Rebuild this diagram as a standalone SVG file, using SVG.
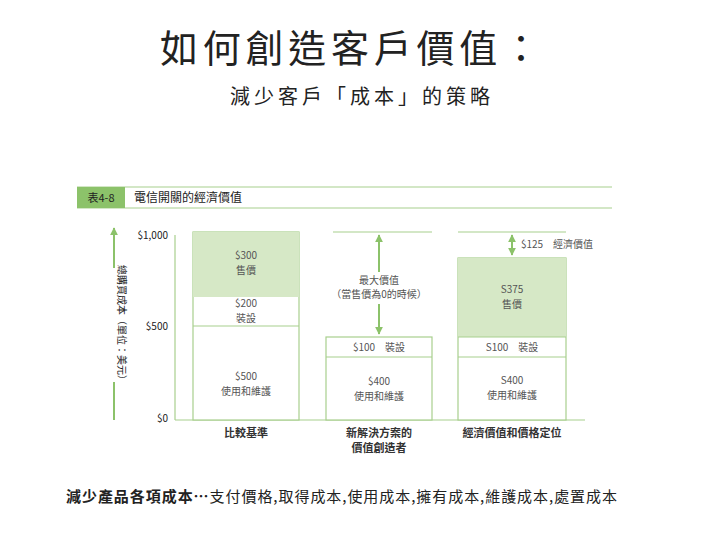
<svg xmlns="http://www.w3.org/2000/svg" width="720" height="540" viewBox="0 0 720 540">
<style>
text{font-family:"Noto Sans CJK TC","Noto Sans CJK SC",sans-serif;fill:#222}
.s{font-size:10px;fill:#555;text-anchor:middle}
.b{font-size:11px;fill:#333;text-anchor:middle;font-weight:bold}
.g{fill:#d6e8c6}
.bx{fill:#fff;stroke:#a8cf8e;stroke-width:1.2}
.ln{stroke:#a8cf8e;stroke-width:1.2;fill:none}
.ar{stroke:#8cc26a;stroke-width:2;fill:none}
</style>
<defs>
<marker id="ah" viewBox="0 0 10 10" refX="9" refY="5" markerWidth="4" markerHeight="4" orient="auto-start-reverse"><path d="M0,0L10,5L0,10z" fill="#8cc26a"/></marker>
</defs>
<rect width="720" height="540" fill="#fff"/>
<g id="title">
<text x="160" y="62" font-size="38" fill="#000" textLength="380" lengthAdjust="spacing">如何創造客戶價值：</text>
<text x="230" y="104" font-size="20" fill="#000" textLength="260" lengthAdjust="spacing">減少客戶「成本」的策略</text>
</g>
<g id="header">
<line x1="77" y1="187" x2="612" y2="187" class="ln"/>
<line x1="77" y1="208" x2="612" y2="208" class="ln"/>
<rect x="77" y="187" width="48" height="21" fill="#8cc26a"/>
<text x="101" y="202" font-size="11" text-anchor="middle" fill="#fff">表4-8</text>
<text x="134" y="202" font-size="12" fill="#333">電信開關的經濟價值</text>
</g>
<g id="axis">
<line x1="175" y1="235" x2="175" y2="420" class="ln"/>
<line x1="175" y1="420" x2="585" y2="420" class="ln"/>
<text x="168" y="239" font-size="10" fill="#555" text-anchor="end">$1,000</text>
<text x="168" y="330" font-size="10" fill="#555" text-anchor="end">$500</text>
<text x="168" y="422" font-size="10" fill="#555" text-anchor="end">$0</text>
<line x1="114" y1="420" x2="114" y2="228" class="ar" marker-end="url(#ah)"/>
<rect x="106" y="268" width="16" height="114" fill="#fff"/>
<text transform="translate(118,325) rotate(90)" font-size="10" text-anchor="middle" fill="#444">總購買成本（單位：美元）</text>
</g>
<g id="bar1">
<rect x="193" y="232" width="106" height="188" class="bx"/>
<rect x="193" y="232" width="106" height="65" class="g"/>
<line x1="193" y1="326" x2="299" y2="326" class="ln"/>
<text x="246" y="259" class="s">$300</text><text x="246" y="274" class="s">售價</text>
<text x="246" y="307" class="s">$200</text><text x="246" y="322" class="s">裝設</text>
<text x="246" y="380" class="s">$500</text><text x="246" y="395" class="s">使用和維護</text>
<text x="246" y="437" class="b">比較基準</text>
</g>
<g id="bar2">
<line x1="333" y1="232" x2="432" y2="232" class="ln"/>
<rect x="326" y="337" width="106" height="83" class="bx"/>
<line x1="326" y1="357" x2="432" y2="357" class="ln"/>
<rect x="340" y="274" width="90" height="28" fill="#fff"/>
<text x="379" y="284" class="s">最大價值</text>
<text x="379" y="298" class="s">（當售價為0的時候）</text>
<text x="379" y="351" class="s">$100　裝設</text>
<text x="379" y="385" class="s">$400</text><text x="379" y="400" class="s">使用和維護</text>
<text x="379" y="437" class="b">新解決方案的</text>
<text x="379" y="452" class="b">價值創造者</text>
</g>
<g id="bar3">
<line x1="458" y1="232" x2="566" y2="232" class="ln"/>
<rect x="458" y="258" width="108" height="162" class="bx"/>
<rect x="458" y="258" width="108" height="79" class="g"/>
<line x1="458" y1="337" x2="566" y2="337" class="ln"/>
<line x1="458" y1="357" x2="566" y2="357" class="ln"/>
<text x="512" y="293" class="s">S375</text><text x="512" y="308" class="s">售價</text>
<text x="512" y="351" class="s">S100　裝設</text>
<text x="512" y="384" class="s">S400</text><text x="512" y="399" class="s">使用和維護</text>
<text x="557" y="248" class="s">$125　經濟價值</text>
<text x="512" y="437" class="b">經濟價值和價格定位</text>
</g>
<g id="connectors">
<line x1="379" y1="235" x2="379" y2="272" class="ar" marker-start="url(#ah)"/>
<line x1="379" y1="304" x2="379" y2="334" class="ar" marker-end="url(#ah)"/>
<line x1="512" y1="235" x2="512" y2="255" class="ar" marker-start="url(#ah)" marker-end="url(#ah)"/>
</g>
<g id="footer">
<text x="66" y="502" font-size="15" fill="#000" textLength="551" lengthAdjust="spacing"><tspan font-weight="bold">減少產品各項成本…</tspan>支付價格,取得成本,使用成本,擁有成本,維護成本,處置成本</text>
</g>
</svg>
